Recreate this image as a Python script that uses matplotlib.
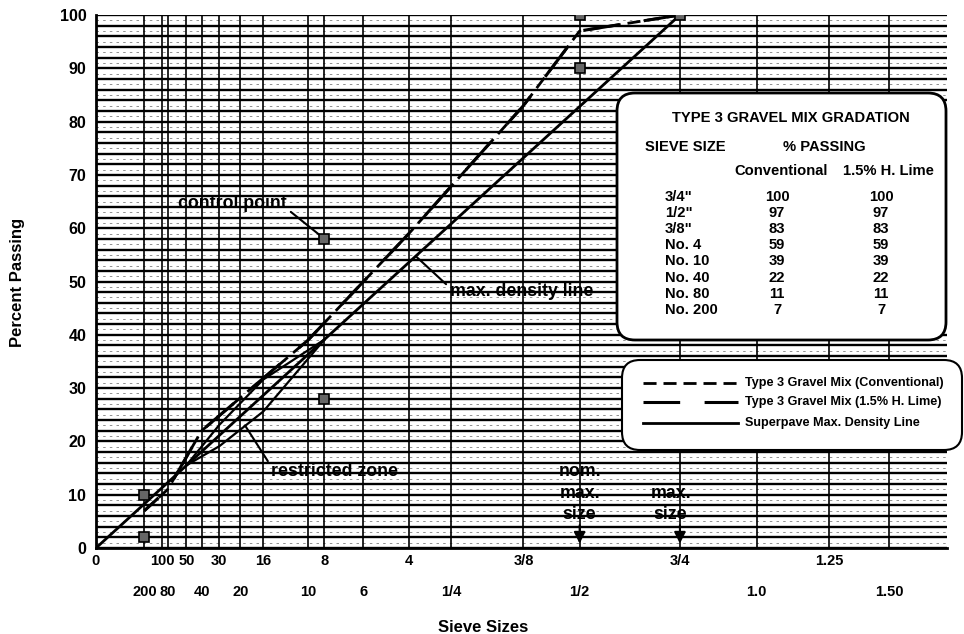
import numpy as np
import matplotlib.pyplot as plt
from matplotlib.patches import FancyBboxPatch

plt.rcParams['font.family'] = ['Liberation Sans', 'DejaVu Sans']
plt.rcParams['font.weight'] = 'bold'

# sieve openings in mm, split into the two label rows under the axis
upper_mm = [0, 0.15, 0.3, 0.6, 1.18, 2.36, 4.75, 9.5, 19.0, 31.5]
upper_lbl = ['0', '100', '50', '30', '16', '8', '4', '3/8', '3/4', '1.25']
lower_mm = [0.075, 0.18, 0.425, 0.85, 2.0, 3.35, 6.3, 12.5, 25.0, 37.5]
lower_lbl = ['200', '80', '40', '20', '10', '6', '1/4', '1/2', '1.0', '1.50']

# gradation table
sieve_names = ['3/4"', '1/2"', '3/8"', 'No. 4', 'No. 10', 'No. 40', 'No. 80', 'No. 200']
sieve_mm = [19.0, 12.5, 9.5, 4.75, 2.0, 0.425, 0.18, 0.075]
conv_pass = [100, 97, 83, 59, 39, 22, 11, 7]
lime_pass = [100, 97, 83, 59, 39, 22, 11, 7]

# superpave control points (12.5 mm nominal)
ctrl_mm = [19.0, 12.5, 12.5, 2.36, 2.36, 0.075, 0.075]
ctrl_pass = [100, 100, 90, 58, 28, 10, 2]

# restricted zone boundaries
rz_mm = [0.3, 0.6, 1.18, 2.36]
rz_low = [15.5, 19.1, 25.6, 39.1]
rz_high = [15.5, 23.1, 31.6, 39.1]

max_size = 19.0
nom_size = 12.5


def p45(d):
    return np.power(np.asarray(d, dtype=float), 0.45)


W, H = 964, 634
fig = plt.figure(figsize=(W / 100, H / 100), dpi=100)
ax = fig.add_axes([96 / W, 1 - 548 / H, 851 / W, 533 / H])
ax.set_xlim(0, 5.483)
ax.set_ylim(0, 100)

# grid: heavy lines every 2 %, broken light lines in between, verticals at sieves
for v in range(0, 101, 2):
    ax.axhline(v, color='k', lw=1.7, zorder=1)
for v in range(1, 100, 2):
    ax.axhline(v, color='k', lw=0.6, ls=(0, (3, 5)), alpha=0.5, zorder=1)
for d in upper_mm[1:] + lower_mm:
    ax.axvline(p45(d), color='k', lw=1.2, zorder=1)

# max density line
ax.plot(p45([0, max_size]), [0, 100], color='k', lw=2, zorder=3)
# gradations
ax.plot(p45(sieve_mm), conv_pass, color='k', lw=2, ls=(0, (4.7, 2.5)), zorder=3)
ax.plot(p45(sieve_mm), lime_pass, color='k', lw=2.2, ls=(0, (12, 8)), zorder=3)
# restricted zone
ax.plot(p45(rz_mm), rz_low, color='k', lw=1.6, zorder=3)
ax.plot(p45(rz_mm), rz_high, color='k', lw=1.6, zorder=3)
# control points
ax.plot(p45(ctrl_mm), ctrl_pass, 's', ms=6.5, mfc='#666666', mec='k', mew=1.2, zorder=5)

# axis ticks
ax.set_xticks(p45(upper_mm))
ax.set_xticklabels(upper_lbl)
ax.set_xticks(p45(lower_mm), minor=True)
ax.set_xticklabels(lower_lbl, minor=True)
ax.tick_params(axis='x', which='both', length=0, labelsize=10.5)
ax.tick_params(axis='x', which='major', pad=4)
ax.tick_params(axis='x', which='minor', pad=27)
ax.set_yticks(range(0, 101, 10))
ax.tick_params(axis='y', length=0, labelsize=11.5, pad=7)
for s in ['top', 'right']:
    ax.spines[s].set_visible(False)
for s in ['left', 'bottom']:
    ax.spines[s].set_linewidth(2)

fig.text(483 / W, 1 - 627 / H, 'Sieve Sizes', ha='center', va='center', fontsize=12)
fig.text(18 / W, 1 - 282 / H, 'Percent Passing', ha='center', va='center',
         rotation=90, fontsize=12)

# callouts
ann = dict(fontsize=12.8, zorder=0.9)
ax.annotate('control point', xy=(p45(2.36), 58), xytext=(0.88, 64.6),
            ha='center', va='center',
            arrowprops=dict(arrowstyle='-', lw=1.5, color='k', relpos=(1, 0.2),
                            shrinkA=1, shrinkB=5), **ann)
xm = 2.06
ax.annotate('max. density line', xy=(xm, 100 * xm / p45(max_size)), xytext=(2.28, 48.2),
            ha='left', va='center',
            arrowprops=dict(arrowstyle='-', lw=1.5, color='k', relpos=(0, 0.7),
                            shrinkA=1, shrinkB=0), **ann)
ax.annotate('restricted zone', xy=(0.96, 23.0), xytext=(1.13, 14.3),
            ha='left', va='center',
            arrowprops=dict(arrowstyle='-', lw=1.5, color='k', relpos=(0, 0.8),
                            shrinkA=1, shrinkB=0), **ann)

for i, word in enumerate(['nom.', 'max.', 'size']):
    ax.text(p45(nom_size), 14.3 - 4 * i, word, ha='center', va='center', **ann)
for i, word in enumerate(['max.', 'size']):
    ax.text(p45(max_size) - 0.06, 10.3 - 4 * i, word, ha='center', va='center', **ann)
for d in [nom_size, max_size]:
    ax.annotate('', xy=(p45(d), 0.3), xytext=(p45(d), 4.8),
                arrowprops=dict(arrowstyle='-|>', color='k', lw=1.5, mutation_scale=17),
                zorder=4)

# overlay in pixel units for the table and the key
ov = fig.add_axes([0, 0, 1, 1])
ov.set_xlim(0, W)
ov.set_ylim(H, 0)
ov.axis('off')

tfs = 10.6
ov.add_patch(FancyBboxPatch((617, 93), 329, 247, boxstyle='round,pad=0,rounding_size=18',
                            fc='white', ec='k', lw=2))
ov.text(791, 118, 'TYPE 3 GRAVEL MIX GRADATION', ha='center', va='center', fontsize=tfs)
ov.text(685, 147, 'SIEVE SIZE', ha='center', va='center', fontsize=tfs)
ov.text(824, 147, '% PASSING', ha='center', va='center', fontsize=tfs)
ov.text(781, 171, 'Conventional', ha='center', va='center', fontsize=tfs)
ov.text(888, 171, '1.5% H. Lime', ha='center', va='center', fontsize=tfs)
for i, (nm, c, l) in enumerate(zip(sieve_names, conv_pass, lime_pass)):
    y = 197 + 16.1 * i
    ov.text(665, y, nm, ha='left', va='center', fontsize=tfs)
    ov.text(777, y, str(c), ha='center', va='center', fontsize=tfs)
    ov.text(881, y, str(l), ha='center', va='center', fontsize=tfs)

ov.add_patch(FancyBboxPatch((622, 360), 340, 90, boxstyle='round,pad=0,rounding_size=18',
                            fc='white', ec='k', lw=1.5))
key = [('Type 3 Gravel Mix (Conventional)', dict(lw=2, ls=(0, (4.7, 2.5)))),
       ('Type 3 Gravel Mix (1.5% H. Lime)', dict(lw=2.2, ls=(0, (12, 8)))),
       ('Superpave Max. Density Line', dict(lw=2, ls='-'))]
for i, (txt, st) in enumerate(key):
    y = [383, 402, 423][i]
    ov.plot([643, 738], [y, y], color='k', **st)
    ov.text(745, y, txt, ha='left', va='center', fontsize=9.1)

fig.savefig('out.png', dpi=100)
